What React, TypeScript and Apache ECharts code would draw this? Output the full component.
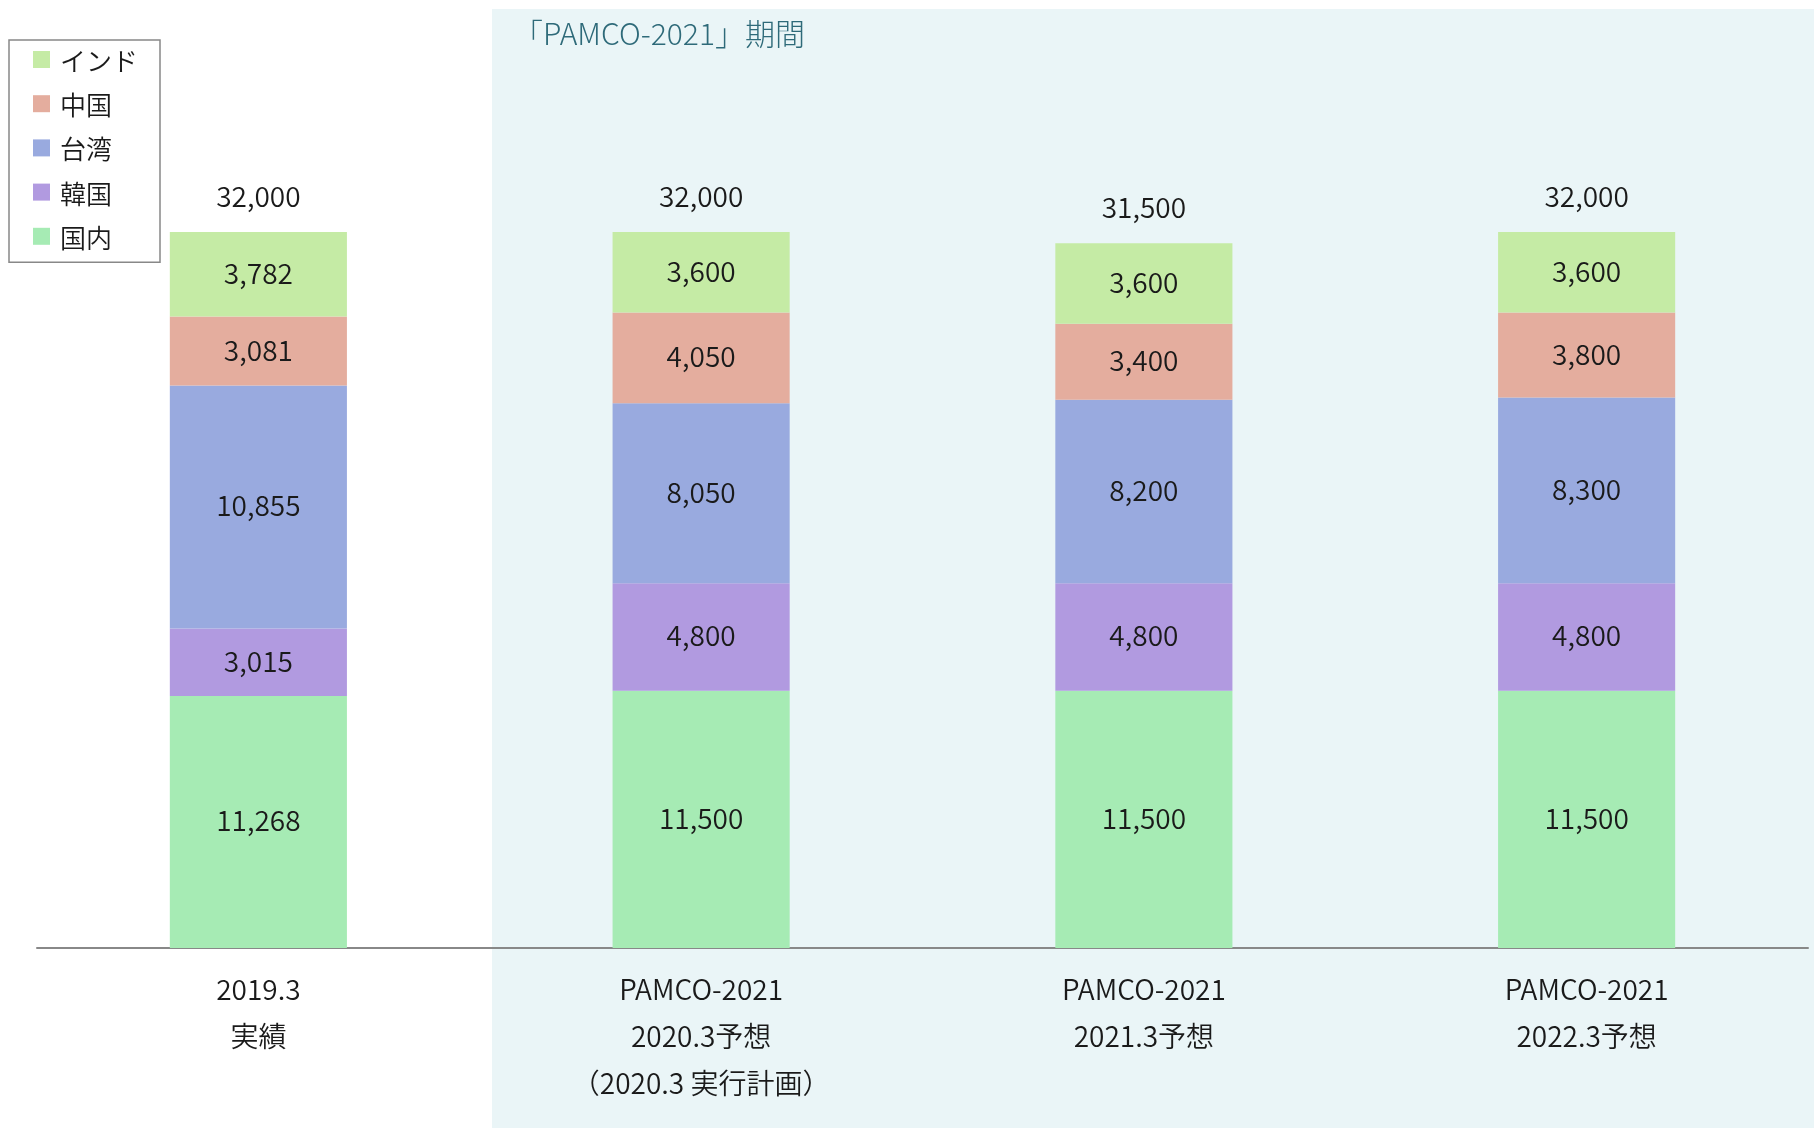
import React, { useEffect, useRef } from "react";
import * as echarts from "echarts";

const categories = [
  "2019.3\n実績",
  "PAMCO-2021\n2020.3予想\n（2020.3 実行計画）",
  "PAMCO-2021\n2021.3予想",
  "PAMCO-2021\n2022.3予想",
];
const domestic = [11268, 11500, 11500, 11500];
const korea = [3015, 4800, 4800, 4800];
const taiwan = [10855, 8050, 8200, 8300];
const china = [3081, 4050, 3400, 3800];
const india = [3782, 3600, 3600, 3600];
const totals = [32000, 32000, 31500, 32000];

const seriesNames = ["国内", "韓国", "台湾", "中国", "インド"];
const seriesColors = ["#A6EBB4", "#B19AE0", "#99AADF", "#E4AD9E", "#C5EBA5"];
const periodTitle = "「PAMCO-2021」期間";

const FONT = "'Noto Sans CJK JP', 'Noto Sans', sans-serif";
const fmt = (v: number) => v.toLocaleString("en-US");

export default function App() {
  const ref = useRef<HTMLDivElement>(null);
  useEffect(() => {
    if (!ref.current) return;
    const chart = echarts.init(ref.current, undefined, { renderer: "svg" });
    const values = [domestic, korea, taiwan, china, india];
    const stacked = values.map((d, i) => ({
      name: seriesNames[i],
      type: "bar",
      stack: "total",
      barWidth: "40%",
      barGap: "-100%",
      data: d,
      itemStyle: { color: seriesColors[i] },
      label: {
        show: true,
        position: "inside",
        offset: [0, -2.5],
        color: "#1a1a1a",
        fontSize: 28,
        fontWeight: 350,
        fontFamily: FONT,
        formatter: (p: any) => fmt(p.value),
      },
      emphasis: { disabled: true },
    }));
    chart.setOption({
      animation: false,
      textStyle: { fontFamily: FONT },
      graphic: [
        {
          type: "rect",
          z: -100,
          silent: true,
          shape: { x: 492, y: 9, width: 1322, height: 1119 },
          style: { fill: "#EAF5F7" },
        },
        {
          type: "text",
          z: 10,
          x: 513,
          y: 32,
          style: {
            text: periodTitle,
            fontSize: 30,
            fontWeight: 300,
            fontFamily: FONT,
            fill: "#2E6A79",
            textVerticalAlign: "middle",
          },
        },
      ],
      legend: {
        orient: "vertical",
        left: 9,
        top: 40,
        data: [...seriesNames].reverse(),
        icon: "rect",
        itemWidth: 17,
        itemHeight: 17,
        itemGap: 18.2,
        padding: [6.5, 22, 13, 24],
        borderColor: "#888888",
        borderWidth: 1.5,
        backgroundColor: "#ffffff",
        textStyle: {
          fontSize: 26,
          lineHeight: 26,
          fontWeight: 350,
          color: "#1a1a1a",
          fontFamily: FONT,
          padding: [0, 0, 0, 5],
        },
        selectedMode: false,
      },
      grid: { left: 37, right: 6, top: 53, bottom: 180, containLabel: false },
      xAxis: {
        type: "category",
        data: categories,
        axisLine: { lineStyle: { color: "#888888", width: 2 } },
        axisTick: { show: false },
        axisLabel: {
          fontSize: 28,
          fontWeight: 350,
          lineHeight: 47,
          color: "#1a1a1a",
          margin: 16,
          fontFamily: FONT,
        },
      },
      yAxis: { type: "value", min: 0, max: 40000, show: false },
      series: [
        ...stacked,
        {
          name: "合計",
          type: "bar",
          barWidth: "40%",
          barGap: "-100%",
          data: totals,
          z: 1,
          itemStyle: { color: "rgba(0,0,0,0)" },
          label: {
            show: true,
            position: "top",
            distance: 22.5,
            color: "#1a1a1a",
            fontSize: 28,
            fontWeight: 350,
            lineHeight: 30,
            fontFamily: FONT,
            formatter: (p: any) => fmt(p.value),
          },
          emphasis: { disabled: true },
          silent: true,
        },
      ],
    });
    return () => chart.dispose();
  }, []);
  return (
    <div
      ref={ref}
      style={{ position: "fixed", left: 0, top: 0, width: 1814, height: 1128 }}
    />
  );
}
